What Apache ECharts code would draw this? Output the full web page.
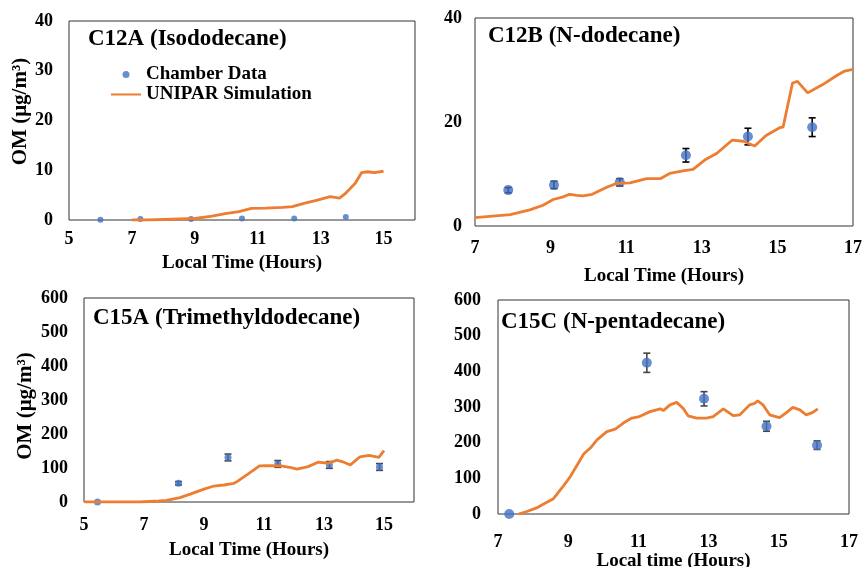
<!DOCTYPE html>
<html><head><meta charset="utf-8">
<script src="https://cdn.jsdelivr.net/npm/echarts@6/dist/echarts.min.js"></script>
<style>html,body{margin:0;padding:0;background:#fff}#c{width:865px;height:567px}</style>
</head><body><div id="c"></div>
<script>
// ---- Data ----
const c12aObsX = [6.0, 7.27, 8.88, 10.5, 12.16, 13.8];
const c12aObsY = [0.05, 0.2, 0.2, 0.3, 0.3, 0.6];
const c12aSimX = [7.0, 7.5, 8.0, 8.5, 9.0, 9.55, 9.97, 10.4, 10.8, 11.25, 11.8, 12.1, 12.5, 12.9, 13.3, 13.6, 13.8, 14.1, 14.3, 14.5, 14.7, 15.0];
const c12aSimY = [0, 0, 0.1, 0.2, 0.3, 0.8, 1.3, 1.7, 2.35, 2.4, 2.55, 2.7, 3.4, 4.0, 4.7, 4.4, 5.4, 7.4, 9.5, 9.7, 9.5, 9.8];

const c12bObsX = [7.88, 9.09, 10.83, 12.58, 14.22, 15.92];
const c12bObsY = [6.9, 7.9, 8.4, 13.6, 17.2, 19.0];
const c12bErr  = [0.5, 0.7, 0.7, 1.3, 1.6, 1.8];
const c12bSimX = [7.0, 7.93, 8.45, 8.8, 9.07, 9.33, 9.5, 9.7, 9.86, 10.1, 10.5, 10.75, 11.1, 11.54, 11.9, 12.15, 12.5, 12.77, 13.1, 13.4, 13.8, 14.1, 14.4, 14.7, 15.06, 15.15, 15.4, 15.53, 15.8, 16.2, 16.56, 16.78, 17.0];
const c12bSimY = [1.6, 2.2, 3.1, 4.0, 5.1, 5.6, 6.1, 5.9, 5.8, 6.1, 7.5, 8.2, 8.3, 9.1, 9.1, 10.1, 10.6, 10.9, 12.8, 14.0, 16.5, 16.3, 15.4, 17.4, 18.9, 19.0, 27.5, 27.8, 25.6, 27.2, 28.9, 29.8, 30.1];

const c15aObsX = [5.45, 8.15, 9.8, 11.46, 13.18, 14.85];
const c15aObsY = [0, 55, 131, 112, 109, 103];
const c15aErr  = [0, 5, 10, 10, 10, 10];
const c15aSimX = [5.0, 6.85, 7.5, 7.75, 8.2, 8.54, 9.0, 9.33, 9.66, 10.0, 10.1, 10.45, 10.85, 11.1, 11.57, 11.9, 12.1, 12.47, 12.8, 13.15, 13.43, 13.6, 13.88, 14.2, 14.5, 14.83, 15.0];
const c15aSimY = [0, 0, 3, 5, 13, 23, 38, 47, 50, 55, 60, 81, 106, 107, 106, 101, 97, 104, 117, 114, 123, 119, 109, 133, 137, 131, 151];

const c15cObsX = [7.32, 11.24, 12.87, 14.65, 16.09];
const c15cObsY = [0, 424, 323, 246, 193];
const c15cErr  = [0, 27, 20, 14, 12];
const c15cSimX = [7.59, 7.82, 8.1, 8.35, 8.58, 8.82, 9.06, 9.29, 9.44, 9.63, 9.82, 10.1, 10.34, 10.57, 10.81, 11.0, 11.33, 11.62, 11.71, 11.9, 12.09, 12.28, 12.42, 12.66, 12.94, 13.13, 13.42, 13.7, 13.89, 14.17, 14.31, 14.4, 14.55, 14.74, 15.02, 15.2, 15.4, 15.6, 15.78, 15.97, 16.11];
const c15cSimY = [0, 7, 17, 31, 43, 73, 105, 143, 168, 185, 208, 231, 238, 255, 269, 272, 287, 295, 290, 306, 313, 296, 275, 269, 269, 273, 295, 276, 278, 306, 310, 317, 306, 278, 270, 283, 299, 292, 278, 285, 295];

const xTicksA = [5, 7, 9, 11, 13, 15];
const xTicksB = [7, 9, 11, 13, 15, 17];
const panelTitles = ['C12A (Isododecane)', 'C12B (N-dodecane)', 'C15A (Trimethyldodecane)', 'C15C (N-pentadecane)'];
const xNames = ['Local Time (Hours)', 'Local Time (Hours)', 'Local Time (Hours)', 'Local time (Hours)'];
const yName = 'OM (μg/m³)';

// ---- Chart ----
const FONT = 'Liberation Serif';
const BLUE = '#4472C4', ORANGE = '#ED7D31';
const zip = (a, b, c) => a.map((v, i) => c ? [v, b[i], c[i]] : [v, b[i]]);

const grids = [
  {left: 69, top: 21, width: 346, height: 199},
  {left: 475, top: 18, width: 378, height: 208},
  {left: 84, top: 298, width: 330, height: 204},
  {left: 498, top: 300, width: 351, height: 214}
].map(g => Object.assign({show: true, borderColor: '#333', borderWidth: 1, backgroundColor: 'transparent',
  containLabel: false, outerBoundsMode: 'none'}, g));

const xCfg = [
  {min: 5, max: 16, ticks: xTicksA, gap: 34, margin: 10},
  {min: 7, max: 17, ticks: xTicksB, gap: 41, margin: 13},
  {min: 5, max: 16, ticks: xTicksA, gap: 39, margin: 14},
  {min: 7, max: 17, ticks: xTicksB, gap: 37, margin: 19}
];
const yCfg = [
  {min: 0, max: 40, interval: 10, name: yName, gap: 38, margin: 16, pad: [0, 0, 0, 18]},
  {min: 0, max: 40, interval: 20, name: '', gap: 0, margin: 13, pad: 0},
  {min: 0, max: 600, interval: 100, name: yName, gap: 48, margin: 16, pad: [0, 12, 0, 0]},
  {min: 0, max: 600, interval: 100, name: '', gap: 0, margin: 17, pad: 0}
];
const labelStyle = {fontFamily: FONT, fontWeight: 'bold', fontSize: 18, color: '#000'};

const xAxes = xCfg.map((c, i) => ({
  type: 'value', gridIndex: i, min: c.min, max: c.max, interval: 2,
  splitLine: {show: false}, axisTick: {show: false},
  axisLine: {show: false},
  axisLabel: Object.assign({margin: c.margin, formatter: v => c.ticks.includes(v) ? String(v) : ''}, labelStyle),
  name: xNames[i], nameLocation: 'middle', nameGap: c.gap,
  nameTextStyle: Object.assign({}, labelStyle, {fontSize: 19})
}));
const yAxes = yCfg.map((c, i) => ({
  type: 'value', gridIndex: i, min: c.min, max: c.max, interval: c.interval,
  splitLine: {show: false}, axisTick: {show: false},
  axisLine: {show: false},
  axisLabel: Object.assign({margin: c.margin}, labelStyle),
  name: c.name, nameLocation: 'middle', nameGap: c.gap, nameRotate: 90,
  nameTextStyle: Object.assign({}, labelStyle, {fontSize: 21, padding: c.pad})
}));

function errBars(idx, data, color) {
  return {
    type: 'custom', name: 'err' + idx, xAxisIndex: idx, yAxisIndex: idx, z: 2,
    data: data,
    renderItem: function (params, api) {
      const x = api.value(0), y = api.value(1), e = api.value(2);
      if (!e) return null;
      const t = api.coord([x, y + e]), b = api.coord([x, y - e]);
      const w = 3.5;
      const st = {stroke: color, lineWidth: 1.6};
      return {type: 'group', children: [
        {type: 'line', shape: {x1: t[0], y1: t[1], x2: b[0], y2: b[1]}, style: st},
        {type: 'line', shape: {x1: t[0] - w, y1: t[1], x2: t[0] + w, y2: t[1]}, style: st},
        {type: 'line', shape: {x1: b[0] - w, y1: b[1], x2: b[0] + w, y2: b[1]}, style: st}
      ]};
    }
  };
}
function obs(idx, data, size) {
  return {type: 'scatter', name: 'Chamber Data', xAxisIndex: idx, yAxisIndex: idx, z: 3,
    symbol: 'circle', symbolSize: size, itemStyle: {color: BLUE}, data: data};
}
function sim(idx, data) {
  return {type: 'line', name: 'UNIPAR Simulation', xAxisIndex: idx, yAxisIndex: idx, z: 4,
    symbol: 'none', showSymbol: false, smooth: false,
    lineStyle: {color: ORANGE, width: 2.8}, itemStyle: {color: ORANGE}, data: data};
}

const series = [
  obs(0, zip(c12aObsX, c12aObsY), 6),
  sim(0, zip(c12aSimX, c12aSimY)),
  errBars(1, zip(c12bObsX, c12bObsY, c12bErr), '#000'),
  obs(1, zip(c12bObsX, c12bObsY), 10),
  sim(1, zip(c12bSimX, c12bSimY)),
  errBars(2, zip(c15aObsX, c15aObsY, c15aErr), '#444'),
  obs(2, zip(c15aObsX, c15aObsY), 7),
  sim(2, zip(c15aSimX, c15aSimY)),
  errBars(3, zip(c15cObsX, c15cObsY, c15cErr), '#444'),
  obs(3, zip(c15cObsX, c15cObsY), 10),
  sim(3, zip(c15cSimX, c15cSimY))
];

const titlePos = [[88, 28], [488, 25], [93, 307], [501, 311]];
const titles = panelTitles.map((t, i) => ({
  text: t, left: titlePos[i][0], top: titlePos[i][1], padding: 0,
  textStyle: {fontFamily: FONT, fontWeight: 'bold', fontSize: 23, color: '#000'}
}));

const chart = echarts.init(document.getElementById('c'), null, {renderer: 'canvas'});
chart.setOption({
  animation: false,
  backgroundColor: '#fff',
  title: titles,
  legend: {
    left: 110, top: 65, orient: 'vertical', itemGap: 1, itemWidth: 30, itemHeight: 7,
    padding: 0, selectedMode: false,
    textStyle: {fontFamily: FONT, fontWeight: 'bold', fontSize: 19, color: '#000'},
    data: [
      {name: 'Chamber Data', icon: 'circle'},
      {name: 'UNIPAR Simulation', itemStyle: {opacity: 0}}
    ]
  },
  grid: grids,
  xAxis: xAxes,
  yAxis: yAxes,
  series: series
});
</script>
</body></html>
